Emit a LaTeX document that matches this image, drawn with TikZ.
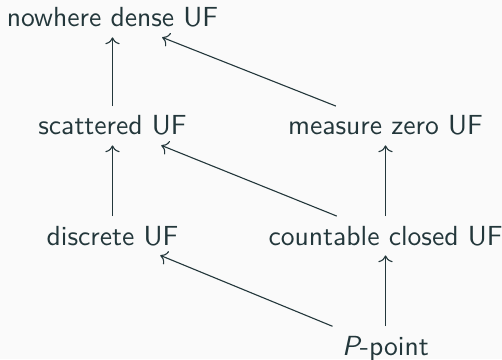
\documentclass[tikz,border=0pt]{standalone}
\usepackage{tikz}
\usetikzlibrary{arrows.meta}
\definecolor{darkteal}{RGB}{35,55,59}
\definecolor{lightbg}{RGB}{250,250,250}

\begin{document}
\begin{tikzpicture}[
    x=0.362pt, y=-0.362pt,
    uf/.style={anchor=base, font=\sffamily, text=darkteal},
    imp/.style={->, draw=darkteal, line width=0.4pt},
]
    \fill[lightbg] (0,0) rectangle (502,359);
    \useasboundingbox (0,0) rectangle (502,359);

    % Row 1
    \node[uf] (nwd) at (112.5,27) {nowhere dense UF};
    % Row 2
    \node[uf] (scat) at (112.5,135) {scattered UF};
    \node[uf] (mzero) at (385.5,135) {measure zero UF};
    % Row 3
    \node[uf] (disc) at (112.5,245) {discrete UF};
    \node[uf] (ccl) at (385.5,245) {countable closed UF};
    % Row 4
    \node[uf] (ppt) at (385.5,355) {{\itshape P}-point};

    % Implications
    \draw[imp] (scat) -- (nwd);
    \draw[imp] (mzero) -- (nwd);
    \draw[imp] (disc) -- (scat);
    \draw[imp] (ccl) -- (scat);
    \draw[imp] (ccl) -- (mzero);
    \draw[imp] (ppt) -- (disc);
    \draw[imp] (ppt) -- (ccl);
\end{tikzpicture}
\end{document}
